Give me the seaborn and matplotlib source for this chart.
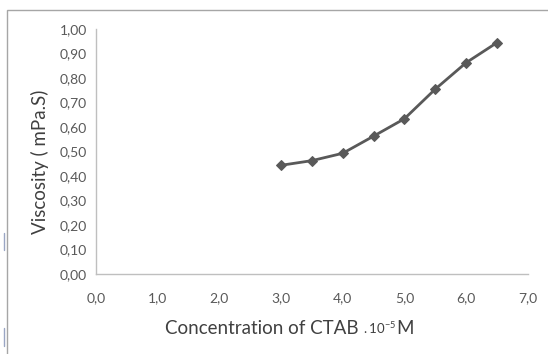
import matplotlib
matplotlib.use("Agg")
import matplotlib.pyplot as plt
import seaborn as sns
import pandas as pd
from matplotlib.patches import Rectangle
from matplotlib.lines import Line2D
from matplotlib.offsetbox import TextArea, HPacker, AnnotationBbox

concentration = [3.0, 3.5, 4.0, 4.5, 5.0, 5.5, 6.0, 6.5]
viscosity = [0.443, 0.462, 0.492, 0.562, 0.633, 0.754, 0.862, 0.944]
x_ticks = [0, 1, 2, 3, 4, 5, 6, 7]
y_ticks = [0.0, 0.1, 0.2, 0.3, 0.4, 0.5, 0.6, 0.7, 0.8, 0.9, 1.0]

sns.set_theme(style="white")
plt.rcParams['font.family'] = ['Lato', 'DejaVu Sans']

df = pd.DataFrame({"c": concentration, "v": viscosity})

W, H = 548, 354
fig = plt.figure(figsize=(W / 100, H / 100), dpi=100)
fig.patch.set_facecolor("white")
# outer chart frame
fig.add_artist(Rectangle((7 / W, -0.05), 1.1, 1 - 10 / H + 0.05, transform=fig.transFigure,
                         fill=False, edgecolor="#a6a6a6", linewidth=1.0))
# small stray marks at the left edge
for y0, y1 in [(233, 250), (328, 346)]:
    fig.add_artist(Line2D([3.5 / W, 3.5 / W], [1 - y0 / H, 1 - y1 / H], transform=fig.transFigure,
                          color="#9aa6c4", linewidth=1.0))

ax = fig.add_axes([96 / W, 1 - 273.7 / H, (527.7 - 96) / W, (273.7 - 29) / H])
sns.lineplot(data=df, x="c", y="v", ax=ax, color="#595959", linewidth=2.0,
             marker="D", markersize=5.5, markeredgecolor="#595959", markerfacecolor="#595959")

ax.set_xlim(0, 7)
ax.set_ylim(0, 1.0)
ax.set_xticks(x_ticks)
ax.set_yticks(y_ticks)
ax.set_xticklabels([f"{t:.1f}".replace(".", ",") for t in x_ticks])
ax.set_yticklabels([f"{t:.2f}".replace(".", ",") for t in y_ticks])

for s in ["top", "right"]:
    ax.spines[s].set_visible(False)
for s in ["left", "bottom"]:
    ax.spines[s].set_color("#bfbfbf")
    ax.spines[s].set_linewidth(1.0)

ax.tick_params(axis="both", which="major", direction="out", length=3.6, width=0.8,
               color="#bfbfbf", labelsize=10, labelcolor="#595959")
ax.tick_params(axis="x", pad=10)
ax.tick_params(axis="y", pad=3)

ax.set_ylabel("Viscosity ( mPa.S)", fontsize=13.5, color="#404040")
ax.yaxis.set_label_coords(-0.109, 0.4585)
ax.set_xlabel("")

# x-axis title with small ".10" and superscript "-5"
tp_big = dict(size=13.5, color="#404040")
parts = [
    TextArea("Concentration of CTAB ", textprops=tp_big),
    TextArea(r"$\mathregular{.10^{-5}}$", textprops=dict(size=9.5, color="#404040")),
    TextArea("M", textprops=tp_big),
]
pack = HPacker(children=parts, align="baseline", pad=0, sep=0)
ab = AnnotationBbox(pack, (165 / W, 1 - 328 / H), xycoords="figure fraction",
                    box_alignment=(0, 0.5), frameon=False, pad=0)
fig.add_artist(ab)

fig.savefig("out.png", dpi=100, facecolor="white")
